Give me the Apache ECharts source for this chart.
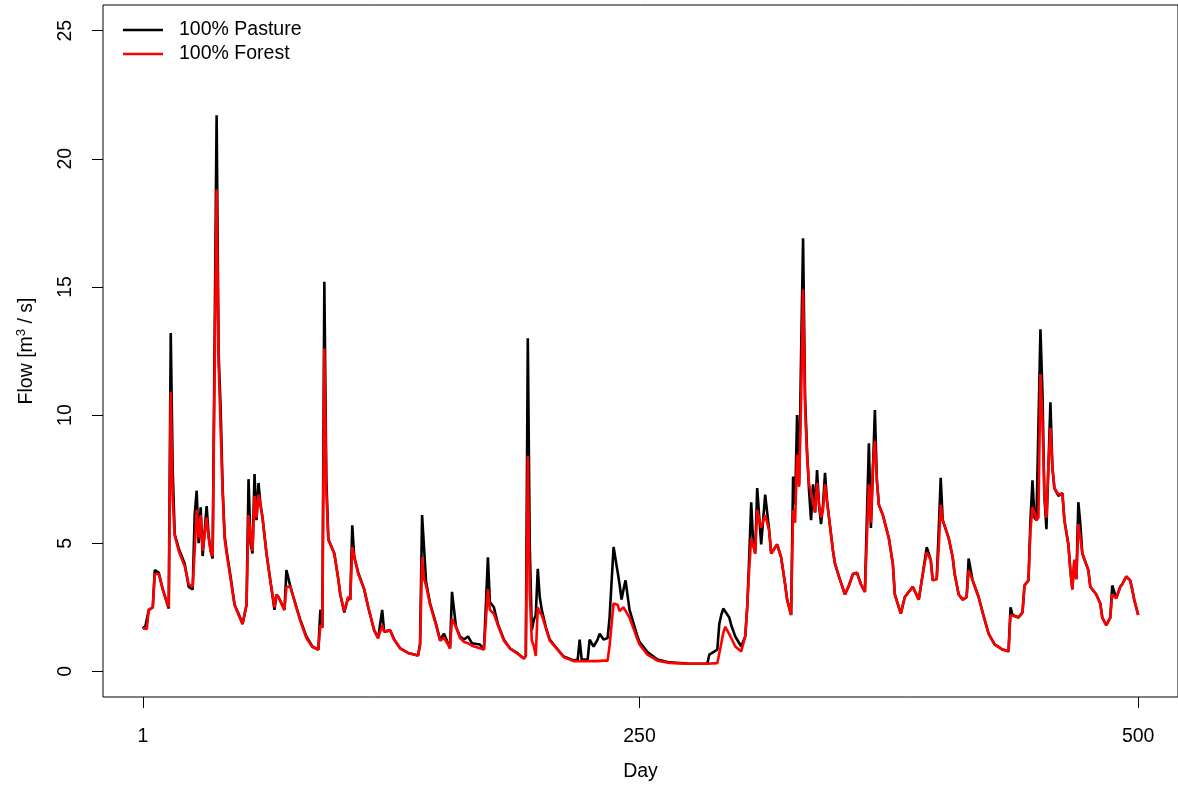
<!DOCTYPE html>
<html>
<head>
<meta charset="utf-8">
<title>Flow</title>
<script src="https://cdn.jsdelivr.net/npm/echarts@6/dist/echarts.min.js"></script>
<style>
    html, body { margin: 0; padding: 0; background: #fff; }
    #main1 { width: 1178px; height: 787px; }
</style>
</head>
<body>
<div id="main1"></div>
<script>
    // day numbers where the line bends
    var days = [
        1, 2, 3, 4, 6, 7, 9, 11, 14, 15, 16, 17, 19, 22, 24, 26, 27, 28, 29, 30,
        31, 33, 34, 35, 36, 37, 38, 39, 40, 41, 42, 43, 45, 47, 49, 51, 52, 53, 54, 55,
        56, 57, 58, 59, 60, 61, 63, 65, 67, 68, 69, 72, 73, 75, 78, 80, 83, 86, 89, 90,
        91, 92, 93, 94, 95, 97, 99, 100, 102, 104, 105, 106, 107, 109, 112, 114, 117, 119, 120, 121,
        122, 125, 127, 130, 134, 139, 140, 141, 142, 143, 145, 148, 150, 152, 154, 155, 156, 158, 160, 162,
        164, 166, 170, 172, 173, 174, 175, 177, 179, 182, 185, 189, 192, 193, 194, 195, 196, 197, 198, 199,
        200, 201, 203, 205, 209, 212, 217, 219, 220, 221, 224, 225, 227, 229, 230, 232, 234, 235, 237, 239,
        240, 241, 242, 243, 245, 249, 250, 254, 259, 265, 274, 284, 285, 289, 290, 291, 292, 293, 295, 296,
        298, 301, 303, 304, 305, 306, 307, 308, 309, 311, 313, 315, 316, 319, 321, 323, 324, 326, 327, 328,
        329, 330, 331, 332, 333, 334, 335, 336, 337, 338, 339, 340, 341, 342, 343, 344, 345, 347, 348, 350,
        353, 355, 357, 359, 361, 363, 364, 365, 366, 367, 368, 369, 370, 372, 373, 375, 377, 378, 381, 383,
        387, 390, 392, 394, 396, 397, 399, 400, 401, 402, 405, 407, 408, 410, 412, 414, 415, 417, 420, 422,
        425, 428, 432, 435, 436, 437, 440, 442, 443, 445, 446, 447, 448, 449, 450, 451, 452, 453, 454, 455,
        456, 457, 458, 460, 462, 463, 465, 466, 467, 468, 469, 470, 471, 472, 475, 476, 479, 481, 482, 484,
        486, 487, 489, 491, 492, 494, 496, 497, 498, 500
    ];

    var pasture = [
        1.75, 1.65, 1.6, 2.4, 2.5, 3.95, 3.85, 3.2, 2.45, 13.2, 7.8, 5.35, 4.8, 4.2, 3.3, 3.2, 6.1, 7.05, 5.0, 6.4,
        4.5, 6.45, 5.3, 4.7, 4.4, 13.0, 21.7, 12.4, 10.3, 7.2, 5.3, 4.7, 3.7, 2.6, 2.25, 1.85, 1.8, 2.6, 7.5, 5.0,
        4.6, 7.7, 5.9, 7.35, 6.5, 6.0, 4.6, 3.5, 2.4, 3.0, 2.9, 2.4, 3.95, 3.3, 2.5, 2.0, 1.36, 0.97, 0.85, 2.4,
        1.7, 15.2, 7.55, 5.15, 5.1, 4.6, 3.6, 3.0, 2.3, 2.9, 2.8, 5.7, 4.45, 3.85, 3.2, 2.5, 1.6, 1.3, 1.36, 2.4,
        1.55, 1.6, 1.24, 0.9, 0.72, 0.62, 1.1, 6.1, 4.8, 3.5, 2.65, 1.85, 1.24, 1.47, 1.1, 0.9, 3.1, 1.74, 1.36, 1.24,
        1.36, 1.1, 1.05, 0.85, 2.6, 4.45, 2.7, 2.5, 1.85, 1.24, 0.9, 0.7, 0.5, 0.6, 13.0, 4.85, 1.6, 2.0, 2.2, 4.0,
        2.9, 2.4, 1.74, 1.24, 0.85, 0.58, 0.43, 0.45, 1.24, 0.47, 0.45, 1.24, 0.97, 1.24, 1.47, 1.24, 1.3, 2.1, 4.85, 3.9,
        3.4, 2.8, 3.2, 3.55, 2.4, 1.36, 1.15, 0.75, 0.46, 0.35, 0.31, 0.3, 0.65, 0.85, 1.85, 2.2, 2.45, 2.5, 2.1, 1.8,
        1.36, 0.97, 1.36, 2.5, 4.45, 6.6, 5.0, 4.6, 7.15, 4.95, 6.9, 5.5, 4.6, 4.95, 4.45, 3.4, 2.8, 2.2, 7.6, 6.5,
        10.0, 7.3, 12.3, 16.9, 10.7, 8.6, 7.05, 5.9, 7.3, 6.2, 7.85, 6.5, 5.75, 6.5, 7.75, 6.65, 6.0, 4.7, 4.2, 3.7,
        3.0, 3.35, 3.8, 3.85, 3.4, 3.1, 3.15, 8.9, 5.6, 7.8, 10.2, 7.45, 6.5, 6.1, 6.1, 5.2, 4.2, 3.0, 2.25, 2.9,
        3.3, 2.8, 3.8, 4.85, 4.35, 3.55, 3.6, 5.5, 7.55, 5.9, 5.2, 4.45, 3.8, 3.0, 2.8, 2.9, 4.4, 3.55, 2.9, 2.3,
        1.47, 1.05, 0.85, 0.78, 2.5, 2.2, 2.1, 2.3, 3.35, 3.55, 5.9, 7.45, 6.0, 5.9, 5.9, 13.35, 10.9, 6.8, 5.55, 8.0,
        10.5, 7.95, 7.15, 6.85, 6.95, 5.9, 4.95, 3.95, 3.2, 4.35, 3.6, 6.6, 5.75, 4.6, 3.95, 3.3, 3.0, 2.65, 2.1, 1.8,
        2.1, 3.35, 2.85, 3.3, 3.4, 3.7, 3.55, 3.2, 2.8, 2.2
    ];

    var forest = [
        1.7, 1.65, 1.65, 2.4, 2.5, 3.8, 3.8, 3.2, 2.5, 10.9, 6.7, 5.3, 4.7, 4.1, 3.4, 3.3, 4.7, 6.3, 5.2, 6.1,
        4.7, 6.0, 5.2, 4.7, 4.5, 11.7, 18.8, 12.0, 9.5, 7.0, 5.2, 4.6, 3.6, 2.6, 2.2, 1.85, 1.8, 2.6, 6.1, 5.3,
        4.7, 6.85, 6.0, 6.9, 6.5, 6.0, 4.6, 3.5, 2.5, 3.0, 2.9, 2.4, 3.3, 3.3, 2.5, 1.95, 1.3, 0.95, 0.85, 1.8,
        1.7, 12.6, 7.05, 5.15, 5.1, 4.6, 3.6, 3.0, 2.35, 2.9, 2.8, 4.85, 4.5, 3.8, 3.2, 2.5, 1.6, 1.3, 1.36, 1.8,
        1.55, 1.6, 1.24, 0.9, 0.72, 0.62, 1.0, 4.45, 3.6, 3.35, 2.6, 1.8, 1.2, 1.3, 1.05, 0.9, 2.05, 1.74, 1.3, 1.15,
        1.1, 1.0, 0.9, 0.85, 2.0, 3.2, 2.4, 2.25, 1.8, 1.2, 0.9, 0.68, 0.5, 0.6, 8.4, 3.0, 1.2, 1.0, 0.6, 2.5,
        2.3, 2.2, 1.7, 1.2, 0.85, 0.55, 0.4, 0.4, 0.4, 0.4, 0.4, 0.4, 0.4, 0.4, 0.4, 0.42, 0.42, 1.0, 2.65, 2.6,
        2.35, 2.4, 2.5, 2.55, 2.1, 1.24, 1.05, 0.65, 0.42, 0.33, 0.3, 0.3, 0.3, 0.32, 0.7, 1.1, 1.5, 1.74, 1.45, 1.3,
        0.97, 0.78, 1.36, 2.5, 4.0, 5.2, 4.9, 4.6, 6.3, 5.6, 6.1, 5.5, 4.6, 4.95, 4.45, 3.4, 2.8, 2.2, 6.3, 5.8,
        8.45, 7.2, 10.5, 14.9, 10.3, 8.4, 7.3, 7.0, 6.6, 6.2, 7.35, 6.5, 6.0, 6.3, 7.3, 6.65, 6.0, 4.7, 4.2, 3.7,
        3.0, 3.35, 3.8, 3.85, 3.4, 3.1, 3.15, 7.3, 5.8, 8.0, 9.0, 7.45, 6.5, 6.1, 6.1, 5.2, 4.2, 3.0, 2.25, 2.9,
        3.3, 2.8, 3.8, 4.65, 4.35, 3.55, 3.6, 4.8, 6.5, 5.9, 5.2, 4.45, 3.8, 3.0, 2.8, 2.9, 3.95, 3.55, 2.9, 2.3,
        1.47, 1.05, 0.85, 0.78, 2.2, 2.2, 2.1, 2.3, 3.35, 3.55, 5.5, 6.4, 6.2, 5.9, 6.0, 11.6, 9.8, 6.8, 6.0, 8.0,
        9.5, 7.95, 7.15, 6.9, 6.95, 5.9, 4.95, 3.95, 3.2, 4.35, 3.6, 5.75, 5.2, 4.6, 3.95, 3.3, 3.0, 2.65, 2.1, 1.8,
        2.1, 3.0, 2.85, 3.3, 3.4, 3.7, 3.55, 3.2, 2.8, 2.2
    ];

    var dayTicks = [1, 250, 500];
    var flowTicks = [0, 5, 10, 15, 20, 25];
    var seriesNames = ['100% Pasture', '100% Forest'];

    function pairs(xs, ys) {
        var out = [];
        for (var i = 0; i < xs.length; i++) {
            out.push([xs[i], ys[i]]);
        }
        return out;
    }

    var font = 'Liberation Sans, Arial, sans-serif';
    var charts = echarts.init(document.getElementById('main1'));
    charts.setOption({
        animation: false,
        backgroundColor: '#fff',
        textStyle: { fontFamily: font },
        grid: {
            left: 103,
            top: 5,
            right: -6,
            bottom: 86,
            show: true,
            borderColor: '#000',
            borderWidth: 1,
            backgroundColor: 'transparent'
        },
        legend: {
            data: seriesNames,
            orient: 'vertical',
            left: 118,
            top: 15,
            icon: 'rect',
            itemWidth: 40,
            itemHeight: 2.5,
            itemGap: 4,
            textStyle: {
                fontFamily: font,
                fontSize: 19.5,
                color: '#000',
                lineHeight: 20,
                padding: [0, 0, 0, 11]
            }
        },
        xAxis: {
            type: 'value',
            min: -18.96,
            max: 519.96,
            name: 'Day',
            nameLocation: 'middle',
            nameGap: 65,
            nameTextStyle: { fontFamily: font, fontSize: 19.5, color: '#000' },
            axisLine: { show: false, onZero: false },
            axisTick: {
                show: true,
                length: 11,
                customValues: dayTicks,
                lineStyle: { color: '#000', width: 1 }
            },
            axisLabel: {
                customValues: dayTicks,
                margin: 30,
                fontFamily: font,
                fontSize: 19.5,
                color: '#000'
            },
            splitLine: { show: false }
        },
        yAxis: {
            type: 'value',
            min: -1,
            max: 26,
            name: 'Flow [m{sup|3} / s]',
            nameLocation: 'middle',
            nameGap: 65,
            nameRotate: 90,
            nameTextStyle: {
                fontFamily: font,
                fontSize: 19.5,
                color: '#000',
                rich: {
                    sup: { fontFamily: font, fontSize: 13, color: '#000', verticalAlign: 'top', padding: [0, 0, 10, 0] }
                }
            },
            axisLine: { show: false, onZero: false },
            axisTick: {
                show: true,
                length: 11,
                customValues: flowTicks,
                lineStyle: { color: '#000', width: 1 }
            },
            axisLabel: {
                customValues: flowTicks,
                rotate: 90,
                margin: 27,
                fontFamily: font,
                fontSize: 19.5,
                color: '#000'
            },
            splitLine: { show: false }
        },
        series: [
            {
                name: seriesNames[0],
                type: 'line',
                showSymbol: false,
                data: pairs(days, pasture),
                lineStyle: { color: '#000', width: 2.6 },
                itemStyle: { color: '#000' }
            },
            {
                name: seriesNames[1],
                type: 'line',
                showSymbol: false,
                data: pairs(days, forest),
                lineStyle: { color: '#ff0000', width: 2.6 },
                itemStyle: { color: '#ff0000' }
            }
        ]
    });
</script>
</body>
</html>
